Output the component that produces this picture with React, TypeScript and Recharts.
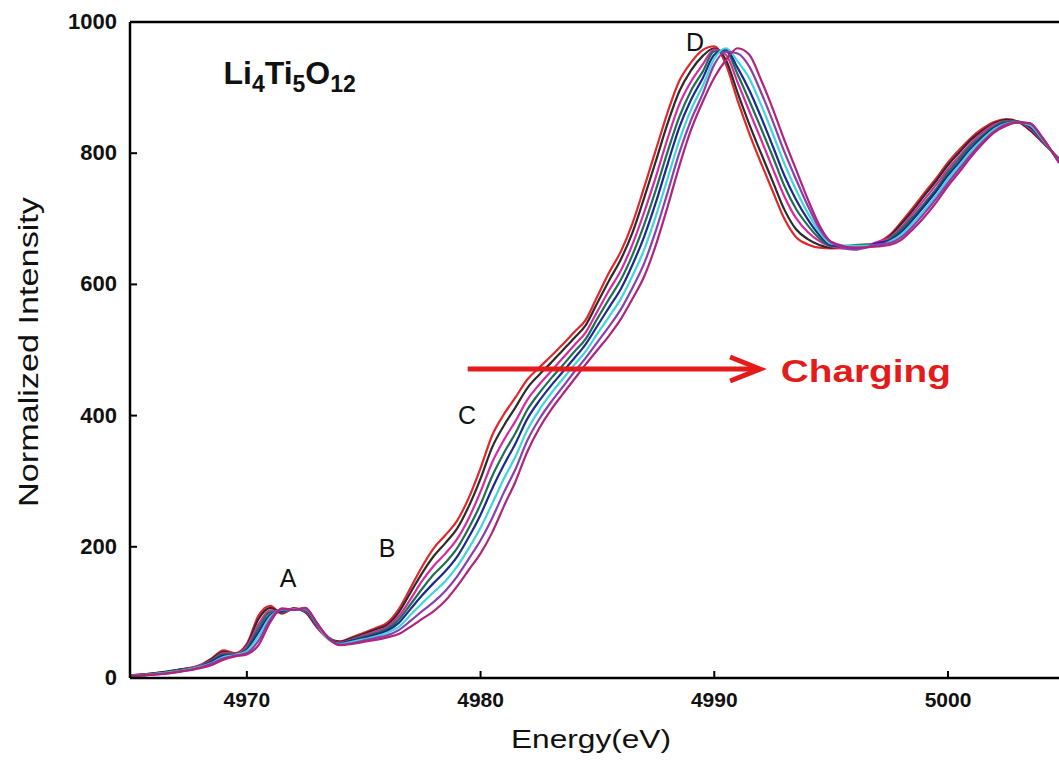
import React from 'react';
import { LineChart, Line, XAxis, YAxis, ReferenceLine, ReferenceDot } from 'recharts';

// energy grid (eV) shared by all scans
const energy = [
  4965, 4966, 4967, 4968, 4968.5, 4969, 4969.5, 4970, 4970.5, 4971,
  4971.5, 4972, 4972.5, 4973, 4973.5, 4974, 4974.5, 4975, 4975.5, 4976,
  4976.5, 4977, 4977.5, 4978, 4978.5, 4979, 4979.5, 4980, 4980.5, 4981,
  4981.5, 4982, 4982.5, 4983, 4983.5, 4984, 4984.5, 4985, 4985.5, 4986,
  4986.5, 4987, 4987.5, 4988, 4988.5, 4989, 4989.5, 4990, 4990.5, 4991,
  4991.5, 4992, 4992.5, 4993, 4993.5, 4994, 4994.5, 4995, 4996, 4997,
  4997.5, 4998, 4998.5, 4999, 4999.5, 5000, 5000.5, 5001, 5001.5, 5002,
  5002.5, 5003, 5003.5, 5004, 5004.75,
];

// normalized intensity, one scan per charging step (left -> right shift)
const scan1 = [
  4, 7, 12, 20, 30, 42, 38, 52, 95, 110, 98, 106, 100, 77, 60, 56, 62, 69, 76, 84,
  105, 137, 170, 198, 218, 240, 275, 320, 370, 402, 428, 455, 473, 490, 508, 527, 546, 582, 618, 650,
  693, 748, 805, 862, 910, 938, 957, 963, 935, 880, 830, 785, 742, 700, 672, 661, 656, 655, 656, 664,
  675, 695, 717, 740, 762, 786, 806, 824, 838, 848, 852, 848, 835, 818, 792,
];
const scan2 = [
  4, 7, 12, 19, 29, 40, 37, 50, 90, 107, 99, 106, 101, 78, 61, 55, 61, 67, 74, 81,
  100, 130, 160, 186, 206, 228, 262, 304, 352, 385, 413, 442, 462, 480, 499, 518, 538, 572, 606, 638,
  679, 732, 788, 845, 894, 926, 948, 960, 942, 892, 844, 800, 757, 714, 684, 669, 660, 656, 660, 662,
  673, 692, 713, 736, 758, 782, 802, 821, 835, 846, 851, 848, 836, 819, 791,
];
const scan3 = [
  4, 6, 11, 19, 27, 38, 37, 48, 82, 103, 100, 105, 102, 79, 59, 54, 59, 65, 71, 78,
  94, 120, 148, 171, 190, 212, 244, 284, 329, 363, 392, 424, 447, 467, 487, 507, 527, 559, 591, 621,
  661, 710, 764, 822, 874, 909, 935, 958, 950, 908, 864, 821, 777, 734, 701, 680, 666, 658, 654, 665,
  671, 687, 708, 730, 752, 776, 796, 816, 832, 844, 849, 848, 838, 820, 790,
];
const scan4 = [
  4, 6, 11, 18, 26, 36, 36, 45, 76, 100, 101, 105, 103, 80, 62, 53, 58, 63, 68, 75,
  89, 112, 136, 158, 176, 198, 229, 265, 308, 343, 374, 409, 434, 456, 476, 497, 517, 548, 578, 607,
  645, 691, 744, 802, 855, 895, 924, 955, 955, 920, 880, 838, 795, 750, 715, 690, 670, 659, 658, 660,
  669, 684, 703, 724, 746, 771, 792, 812, 828, 841, 848, 848, 840, 821, 789,
];
const scan5 = [
  3, 6, 10, 17, 25, 34, 35, 43, 70, 96, 102, 105, 104, 81, 60, 53, 57, 61, 66, 72,
  84, 105, 126, 145, 163, 185, 215, 249, 289, 325, 358, 395, 422, 445, 466, 487, 509, 537, 565, 593,
  630, 673, 725, 783, 839, 881, 914, 950, 958, 930, 896, 855, 811, 766, 729, 699, 675, 660, 655, 663,
  667, 680, 699, 720, 742, 766, 787, 808, 825, 839, 846, 847, 841, 822, 788,
];
const scan6 = [
  3, 6, 10, 17, 23, 32, 35, 41, 64, 93, 104, 105, 105, 82, 58, 52, 55, 59, 63, 69,
  78, 96, 114, 131, 148, 170, 198, 229, 266, 304, 338, 378, 408, 433, 455, 477, 498, 525, 551, 578,
  613, 653, 704, 761, 819, 866, 902, 944, 960, 940, 914, 874, 830, 784, 744, 709, 680, 662, 659, 659,
  665, 676, 694, 714, 736, 761, 782, 804, 822, 837, 845, 847, 843, 823, 787,
];
const scan7 = [
  3, 5, 9, 16, 22, 30, 34, 38, 57, 89, 105, 104, 106, 83, 61, 51, 53, 57, 61, 65,
  73, 87, 102, 116, 133, 155, 182, 210, 244, 283, 319, 362, 394, 420, 443, 466, 488, 512, 536, 562,
  595, 632, 682, 740, 800, 850, 890, 935, 955, 952, 932, 893, 849, 802, 760, 720, 685, 664, 653, 661,
  663, 672, 689, 709, 731, 755, 777, 799, 818, 834, 844, 847, 845, 825, 786,
];
const scan8 = [
  3, 5, 9, 15, 20, 28, 33, 36, 50, 85, 106, 104, 107, 84, 60, 50, 52, 55, 58, 62,
  67, 78, 90, 102, 118, 140, 165, 190, 222, 262, 300, 345, 380, 408, 432, 455, 478, 500, 522, 547,
  578, 612, 660, 718, 780, 835, 878, 915, 942, 960, 950, 912, 868, 820, 775, 730, 690, 665, 656, 658,
  660, 668, 684, 703, 725, 750, 772, 795, 815, 832, 842, 847, 846, 826, 785,
];

const scans = [scan1, scan2, scan3, scan4, scan5, scan6, scan7, scan8];
const scanColors = ['#e3262a', '#2b2b2b', '#d62aa0', '#1f7050', '#1c2a8e', '#3fd6d6', '#8a3fb0', '#b0247a'];

const xTicks = [4970, 4980, 4990, 5000];
const yTicks = [0, 200, 400, 600, 800, 1000];

// peak markers A-D (energy, intensity)
const peakLabels = [
  { text: 'A', x: 4971.76, y: 152 },
  { text: 'B', x: 4976.0, y: 198 },
  { text: 'C', x: 4979.42, y: 401 },
  { text: 'D', x: 4989.18, y: 969 },
];

const chartData = energy.map((e, i) => {
  const row: any = { energy: e };
  scans.forEach((s, k) => {
    row['s' + k] = s[i];
  });
  return row;
});

const FONT = '"Liberation Sans", Arial, sans-serif';
const RED = '#e31b1b';

const XTick = (props: any) => {
  const { x, y, payload } = props;
  return (
    <g>
      <line x1={x} y1={y} x2={x} y2={y - 7} stroke="#000" strokeWidth={2} />
      <text x={x} y={y + 29} textAnchor="middle" fontFamily={FONT} fontWeight="bold" fontSize={21} fill="#111">
        {payload.value}
      </text>
    </g>
  );
};

const YTick = (props: any) => {
  const { x, y, payload } = props;
  return (
    <g>
      <line x1={x} y1={y} x2={x + 7} y2={y} stroke="#000" strokeWidth={2} />
      <text x={x - 13} y={y + 7} textAnchor="end" fontFamily={FONT} fontWeight="bold" fontSize={22} fill="#111">
        {payload.value}
      </text>
    </g>
  );
};

export default function App() {
  return (
    <div style={{ position: 'absolute', left: 0, top: 0, background: '#fff' }}>
      <LineChart width={1059} height={780} data={chartData} margin={{ top: 22, right: 0, bottom: 0, left: 0 }}>
        <XAxis
          dataKey="energy"
          type="number"
          domain={[4965, 5004.75]}
          ticks={xTicks}
          allowDataOverflow
          height={102}
          tickSize={0}
          tickMargin={0}
          tickLine={false}
          axisLine={{ stroke: '#000', strokeWidth: 2.5 }}
          tick={<XTick />}
          label={{
            content: () => (
              <text x={591} y={748} textAnchor="middle" fontFamily={FONT} fontSize={26} textLength={160} lengthAdjust="spacingAndGlyphs" fill="#111">
                Energy(eV)
              </text>
            ),
          }}
        />
        <YAxis
          type="number"
          domain={[0, 1000]}
          ticks={yTicks}
          width={130}
          tickSize={0}
          tickMargin={0}
          tickLine={false}
          axisLine={{ stroke: '#000', strokeWidth: 2.5 }}
          tick={<YTick />}
          label={{
            content: () => (
              <text
                x={0}
                y={0}
                transform="translate(38 352) rotate(-90)"
                textAnchor="middle"
                fontFamily={FONT}
                fontSize={27}
                textLength={310}
                lengthAdjust="spacingAndGlyphs"
                fill="#111"
              >
                Normalized Intensity
              </text>
            ),
          }}
        />
        <ReferenceLine y={1000} stroke="#000" strokeWidth={2.5} />

        {scans.map((_, k) => (
          <Line
            key={k}
            dataKey={'s' + k}
            type="monotone"
            stroke={scanColors[k]}
            strokeWidth={2.2}
            dot={false}
            isAnimationActive={false}
          />
        ))}

        {/* compound name */}
        <ReferenceDot
          x={4969.0}
          y={905}
          r={0}
          shape={(p: any) => (
            <text x={p.cx} y={p.cy} fontFamily={FONT} fontWeight="bold" fontSize={32} fill="#111">
              Li
              <tspan fontSize={23} dy={8}>4</tspan>
              <tspan dy={-8}>Ti</tspan>
              <tspan fontSize={23} dy={8}>5</tspan>
              <tspan dy={-8}>O</tspan>
              <tspan fontSize={23} dy={8}>12</tspan>
            </text>
          )}
        />

        {peakLabels.map((l) => (
          <ReferenceDot
            key={l.text}
            x={l.x}
            y={l.y}
            r={0}
            shape={(p: any) => (
              <text x={p.cx} y={p.cy + 9} textAnchor="middle" fontFamily={FONT} fontSize={25} fill="#111">
                {l.text}
              </text>
            )}
          />
        ))}

        {/* charging arrow */}
        <ReferenceLine
          segment={[
            { x: 4979.45, y: 471 },
            { x: 4991.8, y: 471 },
          ]}
          stroke={RED}
          strokeWidth={5}
        />
        <ReferenceDot
          x={4991.96}
          y={471}
          r={0}
          shape={(p: any) => (
            <polyline
              points={`${p.cx - 30},${p.cy - 12} ${p.cx},${p.cy} ${p.cx - 30},${p.cy + 12}`}
              fill="none"
              stroke={RED}
              strokeWidth={5}
            />
          )}
        />
        <ReferenceDot
          x={4992.85}
          y={468}
          r={0}
          shape={(p: any) => (
            <text x={p.cx} y={p.cy + 11} fontFamily={FONT} fontWeight="bold" fontSize={31} textLength={170} lengthAdjust="spacingAndGlyphs" fill={RED}>
              Charging
            </text>
          )}
        />
      </LineChart>
    </div>
  );
}
